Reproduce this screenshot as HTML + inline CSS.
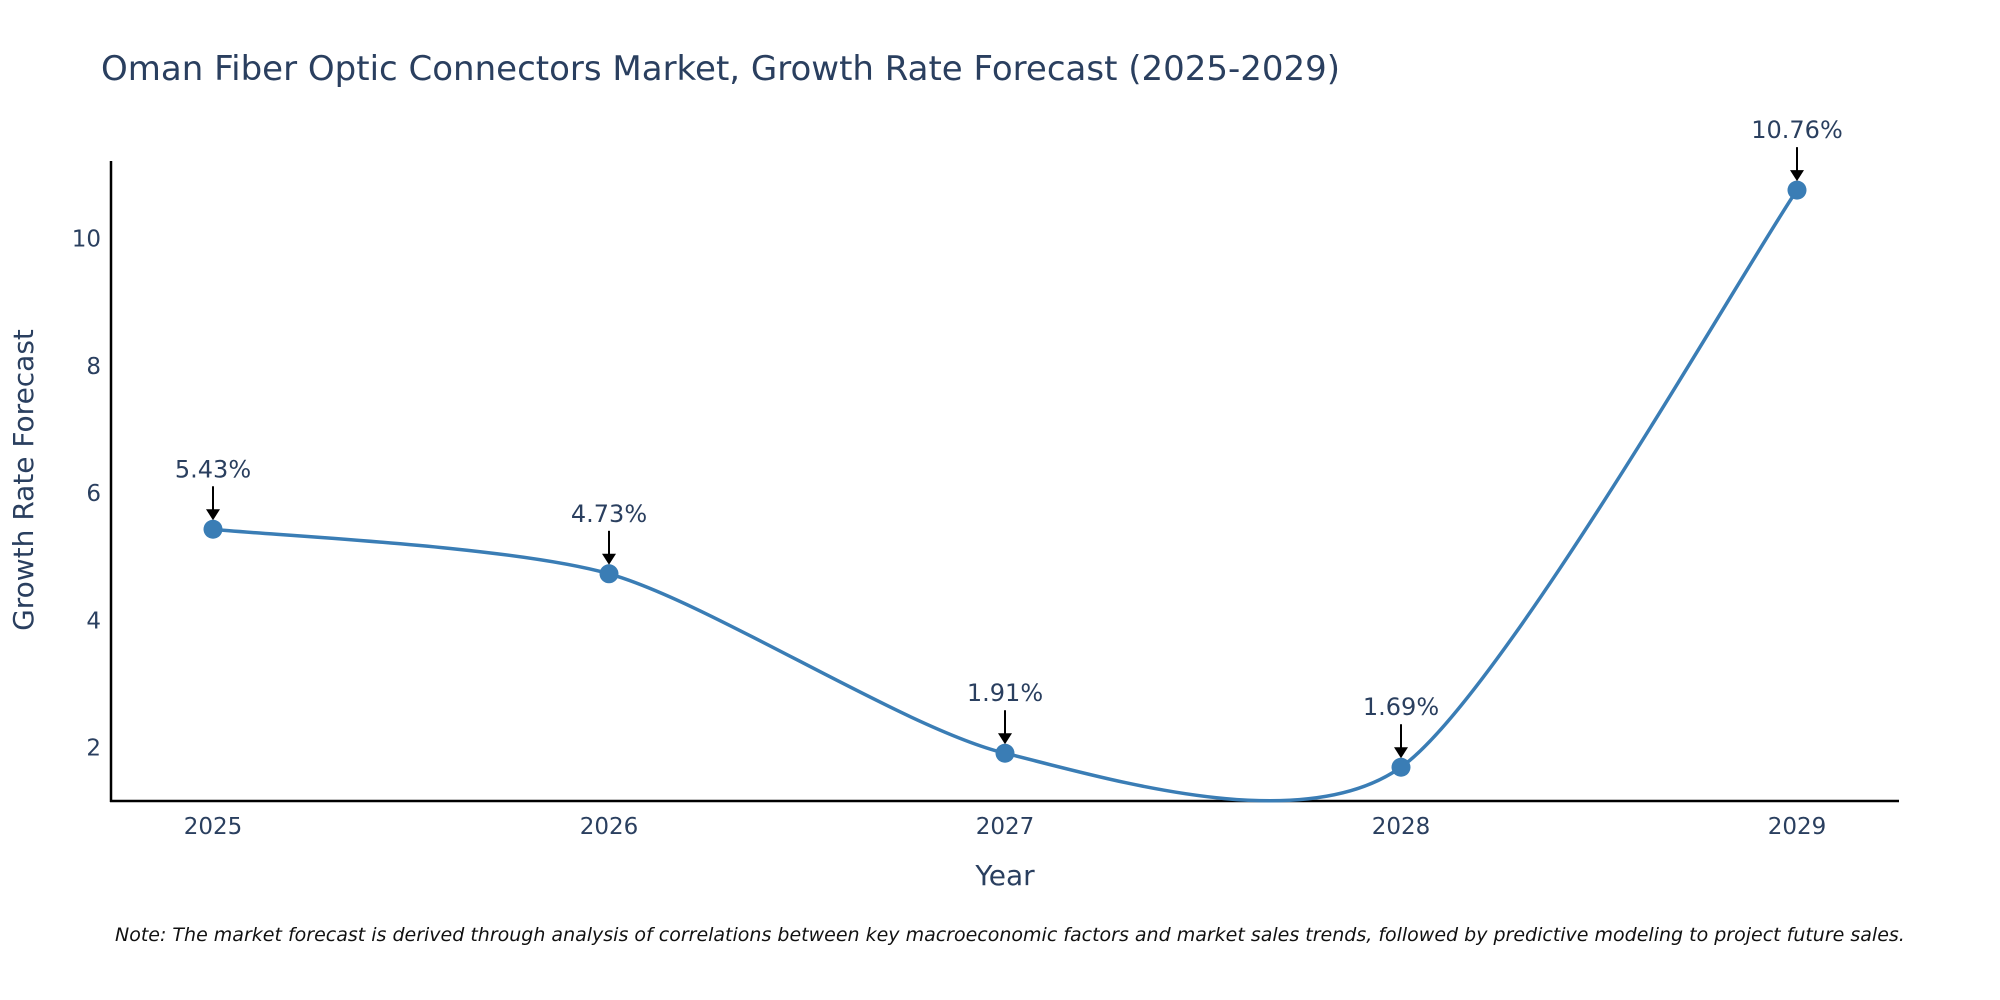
<!DOCTYPE html>
<html><head><meta charset="utf-8"><style>
body{margin:0;background:#fff;}
svg{display:block;font-family:"DejaVu Sans","Liberation Sans",sans-serif;}
</style></head><body>
<svg id="chart" width="2000" height="1000" viewBox="0 0 2000 1000">
<text x="101" y="80" font-size="34" fill="#2a3f5f">Oman Fiber Optic Connectors Market, Growth Rate Forecast (2025-2029)</text>
<g id="yticks"></g>
<g id="xticks"></g>
<line x1="111" y1="161" x2="111" y2="802" stroke="#000" stroke-width="2.5"/>
<line x1="110" y1="801" x2="1899" y2="801" stroke="#000" stroke-width="2.5"/>
<path id="line" fill="none" stroke="#3a7db5" stroke-width="3.5"/>
<g id="points"></g>
<g id="annots"></g>
<text x="33" y="480" font-size="28" fill="#2a3f5f" text-anchor="middle" transform="rotate(-90 33 480)">Growth Rate Forecast</text>
<text x="1005" y="885" font-size="28" fill="#2a3f5f" text-anchor="middle">Year</text>
<text x="115" y="941" font-size="19" font-style="italic" fill="#111">Note: The market forecast is derived through analysis of correlations between key macroeconomic factors and market sales trends, followed by predictive modeling to project future sales.</text>
</svg>
<script>
const years = [2025, 2026, 2027, 2028, 2029];
const values = [5.43, 4.73, 1.91, 1.69, 10.76];
const valueLabels = ["5.43%", "4.73%", "1.91%", "1.69%", "10.76%"];
const yTicks = [2, 4, 6, 8, 10];
const NS = "http://www.w3.org/2000/svg";
function xs(v){return 213 + (v-2025)*(1797-213)/4;}
function ys(v){return 747.5 - (v-2)*(747.5-238.5)/8;}
function mk(t,a,p){const e=document.createElementNS(NS,t);for(const k in a)e.setAttribute(k,a[k]);p.appendChild(e);return e;}
const yt=document.getElementById('yticks');
yTicks.forEach(t=>{const e=mk('text',{x:101,y:ys(t)+8,'font-size':23,fill:'#2a3f5f','text-anchor':'end'},yt);e.textContent=t;

});
const xt=document.getElementById('xticks');
years.forEach(y=>{const e=mk('text',{x:xs(y),y:834,'font-size':23,fill:'#2a3f5f','text-anchor':'middle'},xt);e.textContent=y;

});
const P=years.map((y,i)=>[xs(y),ys(values[i])]);
let d=`M${P[0][0]},${P[0][1]}`;const s=0.38;
for(let i=0;i<P.length-1;i++){const p0=P[i-1]||P[i],p1=P[i],p2=P[i+1],p3=P[i+2]||P[i+1];
const c1=[p1[0]+(p2[0]-p0[0])*s/3,p1[1]+(p2[1]-p0[1])*s/3],c2=[p2[0]-(p3[0]-p1[0])*s/3,p2[1]-(p3[1]-p1[1])*s/3];
d+=` C${c1[0]},${c1[1]} ${c2[0]},${c2[1]} ${p2[0]},${p2[1]}`;}
document.getElementById('line').setAttribute('d',d);
const pts=document.getElementById('points'),an=document.getElementById('annots');
P.forEach((p,i)=>{const c=mk('circle',{cx:p[0],cy:p[1],r:9.5,fill:'#3a7db5'},pts);


const l=mk('line',{x1:p[0],y1:p[1]-43,x2:p[0],y2:p[1]-18,stroke:'#000','stroke-width':2},an);


const h=mk('polygon',{points:`${p[0]-7},${p[1]-20} ${p[0]+7},${p[1]-20} ${p[0]},${p[1]-9}`,fill:'#000'},an);


const t=mk('text',{x:p[0],y:p[1]-52,'font-size':24,fill:'#2a3f5f','text-anchor':'middle'},an);t.textContent=valueLabels[i];

});
</script>
</body></html>
